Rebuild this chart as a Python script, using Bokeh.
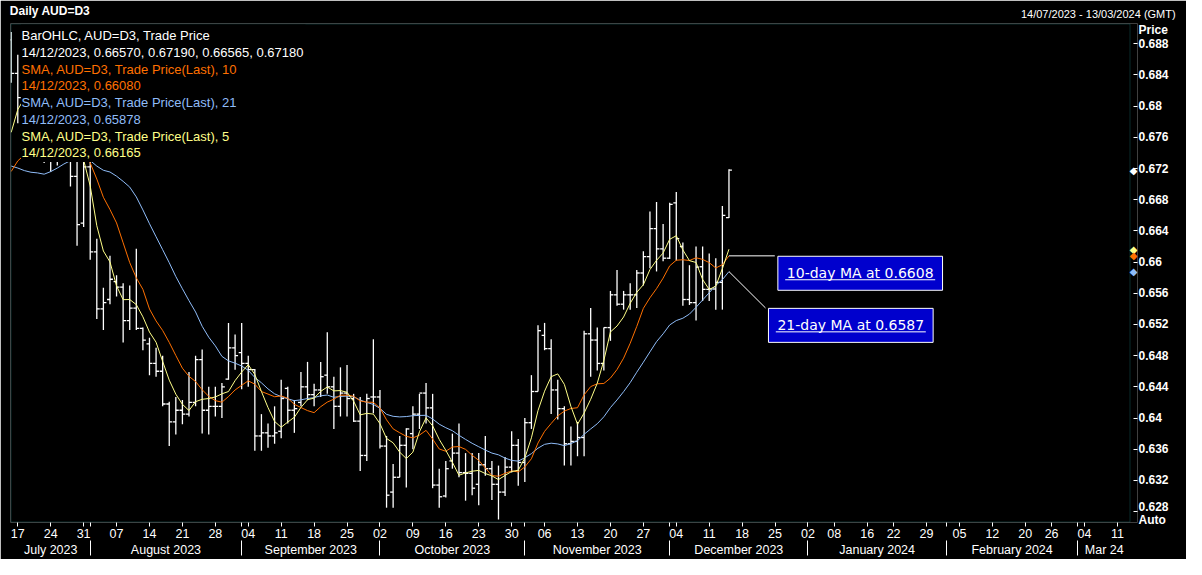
import math
import numpy as np
import pandas as pd
from bokeh.plotting import figure
from bokeh.models import (Range1d, LinearAxis, FixedTicker, NumeralTickFormatter,
                          Label, BoxAnnotation)
from bokeh.embed import file_html
from bokeh.resources import INLINE

# ---------------- data ----------------
first_day = "2023-07-14"
last_axis_day = "2024-03-13"
axis_holidays = ["2024-01-01", "2024-01-15", "2024-02-19"]

open_ = [0.6885, 0.6842, 0.6811, 0.6766, 0.6746, 0.6782, 0.6735, 0.6740, 0.6780, 0.6795,
         0.6710, 0.6650, 0.6722, 0.6613, 0.6540, 0.6552, 0.6575, 0.6568, 0.6525, 0.6541,
         0.6515, 0.6495, 0.6470, 0.6460, 0.6418, 0.6395, 0.6410, 0.6405, 0.6420, 0.6475,
         0.6410, 0.6415, 0.6415, 0.6450, 0.6490, 0.6484, 0.6470, 0.6462, 0.6377, 0.6381,
         0.6377, 0.6383, 0.6438, 0.6410, 0.6420, 0.6440, 0.6430, 0.6436, 0.6455, 0.6440,
         0.6415, 0.6432, 0.6425, 0.6396, 0.6352, 0.6427, 0.6427, 0.6364, 0.6305, 0.6324,
         0.6365, 0.6380, 0.6405, 0.6432, 0.6413, 0.6314, 0.6300, 0.6345, 0.6355, 0.6330,
         0.6329, 0.6315, 0.6340, 0.6335, 0.6315, 0.6305, 0.6337, 0.6365, 0.6343, 0.6394,
         0.6434, 0.6506, 0.6489, 0.6436, 0.6412, 0.6367, 0.6370, 0.6375, 0.6508, 0.6500,
         0.6470, 0.6516, 0.6558, 0.6546, 0.6558, 0.6558, 0.6586, 0.6607, 0.6643, 0.6617,
         0.6605, 0.6676, 0.6620, 0.6552, 0.6548, 0.6594, 0.6565, 0.65655, 0.6574, 0.66570]
high = [0.6895, 0.6866, 0.6825, 0.6800, 0.6808, 0.6795, 0.6768, 0.6790, 0.6805, 0.6822,
        0.6740, 0.6740, 0.6730, 0.6630, 0.6567, 0.6608, 0.6583, 0.6573, 0.6570, 0.6617,
        0.6516, 0.6503, 0.6490, 0.6480, 0.6421, 0.6427, 0.6423, 0.6459, 0.6480, 0.6488,
        0.6440, 0.6440, 0.6445, 0.6522, 0.6507, 0.6522, 0.6480, 0.6463, 0.6405, 0.6393,
        0.6415, 0.6449, 0.6440, 0.6423, 0.6459, 0.6472, 0.6444, 0.6472, 0.6510, 0.6453,
        0.6465, 0.6468, 0.6431, 0.6427, 0.6431, 0.6501, 0.6436, 0.6377, 0.6341, 0.6377,
        0.6387, 0.6415, 0.6431, 0.6445, 0.6431, 0.6335, 0.6345, 0.6380, 0.6393, 0.6355,
        0.6355, 0.6355, 0.6377, 0.6345, 0.6339, 0.6350, 0.6383, 0.6373, 0.6400, 0.6455,
        0.6519, 0.6522, 0.6501, 0.6449, 0.6415, 0.6389, 0.6395, 0.6512, 0.6541, 0.6516,
        0.6516, 0.6563, 0.6590, 0.6563, 0.6573, 0.6590, 0.6614, 0.6665, 0.6677, 0.6649,
        0.6676, 0.6690, 0.6625, 0.6596, 0.6620, 0.6620, 0.6611, 0.6605, 0.6672, 0.67190]
low = [0.6830, 0.6778, 0.6752, 0.6735, 0.6738, 0.6727, 0.6716, 0.6724, 0.6740, 0.6697,
       0.6621, 0.6645, 0.6603, 0.6527, 0.6513, 0.6546, 0.6556, 0.6497, 0.6513, 0.6513,
       0.6487, 0.6455, 0.6453, 0.6415, 0.6364, 0.6379, 0.6392, 0.6402, 0.6415, 0.6380,
       0.6379, 0.6402, 0.6400, 0.6449, 0.6462, 0.6437, 0.6440, 0.6358, 0.6358, 0.6362,
       0.6367, 0.6374, 0.6393, 0.6381, 0.6415, 0.6423, 0.6415, 0.6427, 0.6431, 0.6386,
       0.6402, 0.6402, 0.6395, 0.6332, 0.6345, 0.6406, 0.6361, 0.6285, 0.6285, 0.6324,
       0.6311, 0.6360, 0.6386, 0.6393, 0.6310, 0.6285, 0.6298, 0.6335, 0.6324, 0.6294,
       0.6301, 0.6288, 0.6326, 0.6295, 0.6270, 0.6300, 0.6330, 0.6313, 0.6318, 0.6386,
       0.6434, 0.6487, 0.6405, 0.6398, 0.6339, 0.6339, 0.6351, 0.6351, 0.6453, 0.6461,
       0.6461, 0.6499, 0.6544, 0.6539, 0.6539, 0.6541, 0.6570, 0.6592, 0.6588, 0.6601,
       0.6604, 0.6602, 0.6544, 0.6545, 0.6525, 0.6550, 0.6550, 0.6539, 0.6539, 0.66565]
close = [0.6842, 0.6811, 0.6766, 0.6746, 0.6782, 0.6735, 0.6740, 0.6780, 0.6795, 0.6710,
         0.6648, 0.6722, 0.6613, 0.6540, 0.6548, 0.6578, 0.6568, 0.6525, 0.6541, 0.6515,
         0.6500, 0.6470, 0.6460, 0.6418, 0.6395, 0.6410, 0.6405, 0.6420, 0.6475, 0.6410,
         0.6415, 0.6415, 0.6440, 0.6490, 0.6480, 0.6470, 0.6462, 0.6377, 0.6381, 0.6377,
         0.6381, 0.6425, 0.6410, 0.6412, 0.6440, 0.6430, 0.6436, 0.6453, 0.6440, 0.6415,
         0.6432, 0.6425, 0.6396, 0.6352, 0.6425, 0.6427, 0.6364, 0.6301, 0.6324, 0.6365,
         0.6386, 0.6405, 0.6432, 0.6413, 0.6314, 0.6299, 0.6335, 0.6355, 0.6330, 0.6329,
         0.6310, 0.6340, 0.6335, 0.6315, 0.6305, 0.6337, 0.6365, 0.6343, 0.6394, 0.6434,
         0.6512, 0.6489, 0.6436, 0.6412, 0.6367, 0.6370, 0.6375, 0.6508, 0.6500, 0.6470,
         0.6516, 0.6558, 0.6546, 0.6558, 0.6558, 0.6586, 0.6607, 0.6643, 0.6617, 0.6605,
         0.6674, 0.6630, 0.6552, 0.6548, 0.65935, 0.6565, 0.65655, 0.6574, 0.6660, 0.67180]
# closes of the 20 sessions before the window (16/06/2023 - 13/07/2023), seed for the SMAs
prior_closes = [0.6865, 0.6835, 0.6790, 0.6800, 0.6770, 0.6670, 0.6685, 0.6685, 0.6620, 0.6640,
                0.6665, 0.6675, 0.6690, 0.6660, 0.6625, 0.6680, 0.6665, 0.6695, 0.6780, 0.6850]

day_tick_dates = ["2023-07-17", "2023-07-24", "2023-07-31", "2023-08-07", "2023-08-14",
                  "2023-08-21", "2023-08-28", "2023-09-04", "2023-09-11", "2023-09-18",
                  "2023-09-25", "2023-10-02", "2023-10-09", "2023-10-16", "2023-10-23",
                  "2023-10-30", "2023-11-06", "2023-11-13", "2023-11-20", "2023-11-27",
                  "2023-12-04", "2023-12-11", "2023-12-18", "2023-12-25", "2024-01-02",
                  "2024-01-08", "2024-01-16", "2024-01-22", "2024-01-29", "2024-02-05",
                  "2024-02-12", "2024-02-20", "2024-02-26", "2024-03-04", "2024-03-11"]
month_labels = ["July 2023", "August 2023", "September 2023", "October 2023",
                "November 2023", "December 2023", "January 2024", "February 2024", "Mar 24"]
price_ticks = [0.628, 0.632, 0.636, 0.640, 0.644, 0.648, 0.652, 0.656, 0.660,
               0.664, 0.668, 0.672, 0.676, 0.680, 0.684, 0.688]

# ---------------- derived ----------------
days = pd.bdate_range(first_day, last_axis_day)
days = days[~days.isin(pd.to_datetime(axis_holidays))]
n = len(close)
xs = np.arange(n)
bar_dates = days[:n]

all_close = pd.Series(prior_closes + close)
sma10 = all_close.rolling(10).mean().to_numpy()[-n:]
sma21 = all_close.rolling(21).mean().to_numpy()[-n:]
sma5 = all_close.rolling(5).mean().to_numpy()[-n:]

# ---------------- geometry (canvas pixels -> data) ----------------
W, H = 1186, 559
X0_PX, PX_PER_BAR = 10.7, 6.585          # canvas x of bar 0, pixels per session
BOX_L, BOX_R, BOX_T, BOX_B = 10, 1129, 22, 523   # visible chart border
FRAME_R = 1137                            # frame reaches the axis ticks
Y_TOP, Y_BOT = 0.6906, 0.6266
PXU = (BOX_B - BOX_T) / (Y_TOP - Y_BOT)   # pixels per price unit


def xv(px):
    return (px - X0_PX) / PX_PER_BAR


def yv(py):
    return Y_TOP - (py - BOX_T) / PXU


x_lo, x_hi = xv(BOX_L), xv(FRAME_R)
x_box_end = xv(BOX_R)

BG = "#000000"
C_BAR = "#ffffff"
C10 = "#ff7000"
C21 = "#8fbcf8"
C5 = "#ffff88"
TEAL = "#1a8a8a"
FONT = "Liberation Sans"

p = figure(width=W, height=H, x_range=Range1d(x_lo, x_hi), y_range=Range1d(Y_BOT, Y_TOP),
           output_backend="svg", toolbar_location=None, title=None,
           x_axis_location=None, y_axis_location="right",
           min_border_left=BOX_L, min_border_right=W - FRAME_R,
           min_border_top=BOX_T, min_border_bottom=H - BOX_B)
p.background_fill_color = BG
p.border_fill_color = BG
p.outline_line_color = None
p.grid.visible = False


def bare_axis(ax, size, style="normal"):
    ax.axis_line_color = None
    ax.major_tick_line_color = None
    ax.minor_tick_line_color = None
    ax.major_tick_out = 0
    ax.major_tick_in = 0
    ax.minor_tick_out = 0
    ax.minor_tick_in = 0
    ax.major_label_text_color = "white"
    ax.major_label_text_font = FONT
    ax.major_label_text_font_size = size
    ax.major_label_text_font_style = style


# ---------------- header (two label-only axes above the chart) ----------------
date_text = f"{days[0]:%d/%m/%Y} - {days[-1]:%d/%m/%Y} (GMT)"
date_x = xv(1119.5)
title_x = xv(49.5)
date_axis = LinearAxis(ticker=FixedTicker(ticks=[date_x]), major_label_overrides={date_x: date_text})
bare_axis(date_axis, "11px")
date_axis.major_label_standoff = 4
p.add_layout(date_axis, "above")
title_axis = LinearAxis(ticker=FixedTicker(ticks=[title_x]),
                        major_label_overrides={title_x: "Daily AUD=D3"})
bare_axis(title_axis, "12px", "bold")
title_axis.major_label_standoff = -13
p.add_layout(title_axis, "above")

# ---------------- right price axis ("Price" heading and "Auto" on the same axis) ----------------
# labels sit on major ticks, the tick marks are drawn as minor ticks at the price levels
price_label_at = yv(28.5)
auto_label_at = yv(BOX_B - 2.5)
low_label_at = price_ticks[0] + 5 / PXU          # lowest price label nudged up clear of "Auto"
label_ticks = [low_label_at] + price_ticks[1:] + [price_label_at, auto_label_at]
ya = p.yaxis[0]
ya.ticker = FixedTicker(ticks=label_ticks, minor_ticks=price_ticks)
ya.formatter = NumeralTickFormatter(format="0.[000]")
ya.major_label_overrides = {price_label_at: "Price", auto_label_at: "Auto",
                            low_label_at: f"{price_ticks[0]:g}"}
ya.axis_line_color = None
ya.major_tick_line_color = None
ya.minor_tick_line_color = "white"
ya.minor_tick_in = 4
ya.minor_tick_out = 0
ya.major_tick_in = 0
ya.major_tick_out = 0
ya.major_label_standoff = 1
ya.major_label_text_color = "white"
ya.major_label_text_font = FONT
ya.major_label_text_font_style = "bold"
ya.major_label_text_font_size = "12px"

# ---------------- bottom axes: day numbers and months ----------------
day_pos = [int(i) for i in days.get_indexer(pd.to_datetime(day_tick_dates))]
day_text = {i: days[i].strftime("%d") for i in day_pos}
months = days.to_period("M")
bounds = [i for i in range(1, len(days)) if months[i] != months[i - 1]]
edges = [x_lo] + bounds + [x_box_end]
centers = [round((a + b)) / 2 for a, b in zip(edges[:-1], edges[1:])]

day_axis = LinearAxis(ticker=FixedTicker(ticks=day_pos, minor_ticks=bounds),
                      major_label_overrides=day_text)
bare_axis(day_axis, "12.5px")
day_axis.major_tick_line_color = "white"
day_axis.major_tick_out = 4
day_axis.minor_tick_line_color = "white"
day_axis.minor_tick_out = 4
day_axis.major_label_standoff = 2
p.add_layout(day_axis, "below")

month_axis = LinearAxis(ticker=FixedTicker(ticks=centers, minor_ticks=bounds),
                        major_label_overrides=dict(zip(centers, month_labels)))
bare_axis(month_axis, "12.5px")
month_axis.minor_tick_line_color = "white"
month_axis.minor_tick_out = 15
month_axis.major_label_standoff = -13
p.add_layout(month_axis, "below")

# ---------------- OHLC bars ----------------
TICK = 0.45
p.segment(x0=xs, y0=low, x1=xs, y1=high, line_color=C_BAR, line_width=1.3)
p.segment(x0=xs - TICK, y0=open_, x1=xs, y1=open_, line_color=C_BAR, line_width=1.3)
p.segment(x0=xs, y0=close, x1=xs + TICK, y1=close, line_color=C_BAR, line_width=1.3)

# ---------------- moving averages ----------------
p.line(xs, sma21, line_color=C21, line_width=1)
p.line(xs, sma10, line_color=C10, line_width=1)
p.line(xs, sma5, line_color=C5, line_width=1)

# chart border
p.add_layout(BoxAnnotation(left=xv(BOX_L + 0.5), right=xv(BOX_R + 0.5),
                           top=yv(BOX_T + 0.5), bottom=yv(BOX_B - 0.5),
                           fill_alpha=0, line_color=TEAL, line_width=1))

# ---------------- legend block (opaque, top-left) ----------------
p.add_layout(BoxAnnotation(left=xv(20.5), right=xv(305), bottom=yv(161), top=yv(BOX_T + 1),
                           fill_color=BG, fill_alpha=1.0, line_color=None))
last = bar_dates[-1].strftime("%d/%m/%Y")
legend_lines = [
    ("BarOHLC, AUD=D3, Trade Price", "white"),
    (f"{last}, {open_[-1]:.5f}, {high[-1]:.5f}, {low[-1]:.5f}, {close[-1]:.5f}", "white"),
    ("SMA, AUD=D3, Trade Price(Last),  10", C10),
    (f"{last}, {sma10[-1]:.5f}", C10),
    ("SMA, AUD=D3, Trade Price(Last),  21", C21),
    (f"{last}, {sma21[-1]:.5f}", C21),
    ("SMA, AUD=D3, Trade Price(Last),  5", C5),
    (f"{last}, {sma5[-1]:.5f}", C5),
]
for k, (txt, col) in enumerate(legend_lines):
    p.add_layout(Label(x=xv(21), y=yv(34.3 + 16.8 * k), text=txt, text_color=col,
                       text_font=FONT, text_font_size="13px", text_baseline="middle"))

# last-value markers on the price axis
for val, col in [(close[-1], "white"), (sma5[-1], C5), (sma10[-1], C10), (sma21[-1], C21)]:
    p.add_layout(Label(x=xv(1133), y=val, text="\u25c6", text_color=col,
                       text_font="DejaVu Sans", text_font_size="10px",
                       text_align="center", text_baseline="middle"))

# ---------------- MA call-outs ----------------
def trunc4(v):
    return math.floor(v * 1e4 + 1e-6) / 1e4


BOX_H = 35.0
call_outs = [
    # text, start value, box left px, box top value, box centre px
    (f"10-day MA at {trunc4(sma10[-1]):.4f}", sma10[-1], 774.3, sma10[-1], 859.7),
    (f"21-day MA at {trunc4(sma21[-1]):.4f}", sma21[-1], 765.0, sma21[-1] - 36.5 / PXU, 850.3),
]
for txt, start_val, bx, top_val, cx in call_outs:
    cy_val = top_val - (BOX_H / 2) / PXU
    p.line([xs[-1], xv(bx)], [start_val, top_val], line_color="white", line_width=1)
    p.add_layout(Label(x=xv(cx), y=cy_val, text=txt, text_color="white",
                       text_font="DejaVu Sans", text_font_size="14px",
                       text_align="center", text_baseline="middle",
                       background_fill_color="#0000cd", border_line_color="white",
                       padding=9))
    p.segment(x0=[xv(cx - 75)], y0=[cy_val - 6.5 / PXU], x1=[xv(cx + 75)], y1=[cy_val - 6.5 / PXU],
              line_color="white", line_width=1, level="overlay")

open("out.html", "w").write(file_html(p, INLINE))
